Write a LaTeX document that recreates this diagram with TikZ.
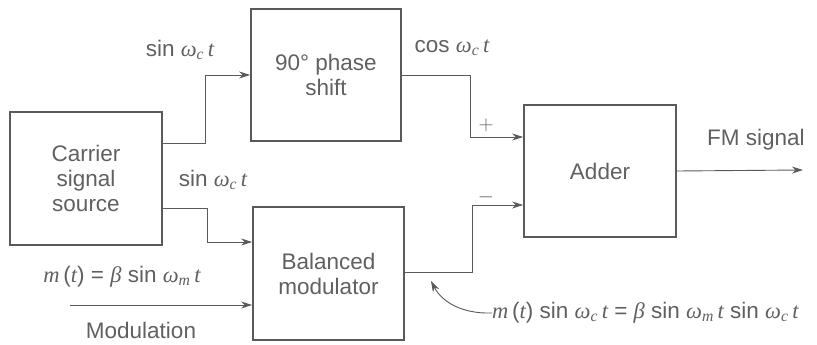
\documentclass[tikz,border=0pt]{standalone}
\usepackage{fontspec}
\setmainfont{Liberation Sans}
\newfontfamily\mif{Liberation Serif}[ItalicFont=* Italic]
\usetikzlibrary{arrows.meta}
\definecolor{ink}{HTML}{5A5A5A}
\definecolor{txt}{HTML}{606060}
\newcommand{\vi}[1]{{\mif\itshape #1}}
\newcommand{\wsub}[1]{\vi{ω}\textsubscript{\vi{#1}}\,\vi{t}}
\begin{document}
\begin{tikzpicture}[x=1pt,y=-1pt,
  blk/.style={draw=ink, line width=1.8pt, minimum width=#1, align=center, text=txt, font=\fontsize{22.5}{25}\selectfont, inner sep=0pt},
  conn/.style={draw=ink, line width=0.9pt},
  arr/.style={conn, -{Stealth[length=11pt,width=7pt]}},
  lbl/.style={text=txt, font=\fontsize{22.5}{25}\selectfont, inner sep=0pt}]
\useasboundingbox (0,0) rectangle (817,345);
\node[blk=152pt, minimum height=133pt] (carrier) at (86,178.5) {Carrier\\signal\\source};
\node[blk=150pt, minimum height=132pt] (phase) at (326,75) {90° phase\\shift};
\node[blk=151pt, minimum height=133pt] (mod) at (328.5,273.5) {Balanced\\modulator};
\node[blk=152pt, minimum height=132pt] (adder) at (600,171) {Adder};
\coordinate (modin) at (70,305);
\coordinate (out) at (803,170);
% connectors
\draw[arr] (carrier.east |- 0,143) -- (205,143) |- (phase.west);
\draw[arr] (carrier.east |- 0,208) -- (207,208) |- (mod.west |- 0,242);
\draw[arr] (modin) -- (mod.west |- modin);
\draw[arr] (phase.east) -- (470,75) |- (adder.west |- 0,137);
\draw[arr] (mod.east |- 0,272) -- (472,272) |- (adder.west |- 0,205);
\draw[arr] (adder.east) -- (out);
% labels
\node[lbl] (l1) at (180,50) {sin \wsub{c}};
\node[lbl] (l2) at (213,180) {sin \wsub{c}};
\node[lbl] (l3) at (452,48) {cos \wsub{c}};
\node[lbl] (plus) at (486,125) {$+$};
\node[lbl] (minus) at (486,197) {$-$};
\node[lbl] (fm) at (756,140) {FM signal};
\node[lbl] (mt) at (122,277) {\vi{m}\,(\vi{t}) = \vi{β} sin \wsub{m}};
\node[lbl] (modlab) at (141,330) {Modulation};
\node[lbl, anchor=west] (prod) at (492,313) {\vi{m}\,(\vi{t}) sin \wsub{c} = \vi{β} sin \wsub{m} sin \wsub{c}};
\draw[arr] (prod.west) .. controls (462,314) and (442,302) .. (431,281);
\end{tikzpicture}
\end{document}
